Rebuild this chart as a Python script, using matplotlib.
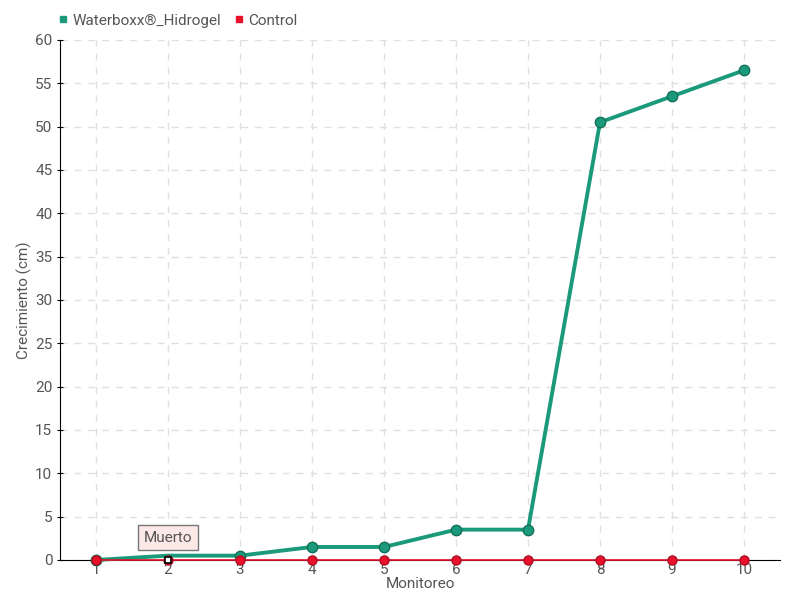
import matplotlib
matplotlib.use('Agg')
import matplotlib.pyplot as plt
from matplotlib.lines import Line2D

monitoreo = [1, 2, 3, 4, 5, 6, 7, 8, 9, 10]
waterboxx = [0, 0.5, 0.5, 1.5, 1.5, 3.5, 3.5, 50.5, 53.5, 56.5]
control = [0, 0, 0, 0, 0, 0, 0, 0, 0, 0]
y_ticks = list(range(0, 61, 5))

plt.rcParams['font.family'] = ['Liberation Sans Narrow', 'Roboto', 'DejaVu Sans']

fig = plt.figure(figsize=(8, 6), dpi=100)
ax = fig.add_axes([0.075, 0.0667, 0.9, 0.8667])

green = '#1a9a7a'
red = '#e8102a'

ax.plot(monitoreo, waterboxx, color=green, lw=2.8, marker='o', ms=7.5,
        mfc=green, mec='#13705a', zorder=4, label='Waterboxx®_Hidrogel',
        markevery=[0, 2, 3, 4, 5, 6, 7, 8, 9], clip_on=False)
ax.plot(monitoreo, control, color=red, lw=1.2, marker='o', ms=6.5,
        mfc=red, mec='#b00c20', zorder=5, label='Control', clip_on=False)
# marcador blanco del punto anotado
ax.plot([monitoreo[1]], [control[1]], marker='s', ms=5, mfc='white',
        mec='black', mew=1.2, ls='none', zorder=6, clip_on=False)

ax.annotate('Muerto', xy=(monitoreo[1], control[1]), xytext=(0, 16),
            textcoords='offset points', ha='center', va='center',
            fontsize=11, color='#555555',
            bbox=dict(boxstyle='square,pad=0.35', fc='#fde8e8', ec='#777777', lw=1),
            zorder=7)

ax.set_xlim(0.5, 10.5)
ax.set_ylim(0, 60)
ax.set_xticks(monitoreo)
ax.set_yticks(y_ticks)
ax.grid(True, ls=(0, (5, 5)), color='#e0e0e0', lw=1)
ax.set_axisbelow(True)
for s in ['top', 'right']:
    ax.spines[s].set_visible(False)
ax.spines['left'].set_color('black')
ax.spines['bottom'].set_color('black')
ax.tick_params(axis='both', labelsize=11, labelcolor='#555555', length=4, direction='inout')
ax.tick_params(axis='x', pad=2, length=0)
ax.set_xlabel('Monitoreo', fontsize=11, color='#555555', labelpad=0)
ax.set_ylabel('Crecimiento (cm)', fontsize=11, color='#555555', labelpad=2)

h = [Line2D([], [], ls='none', marker='s', ms=5, color=green),
     Line2D([], [], ls='none', marker='s', ms=5, color=red)]
fig.legend(h, ['Waterboxx®_Hidrogel', 'Control'], loc='upper left',
           bbox_to_anchor=(0.05, 1.0), ncol=2, frameon=False, fontsize=11,
           handletextpad=0.0, columnspacing=0.6, handlelength=1.2,
           labelcolor='#555555')

fig.savefig('out.png', dpi=100)
